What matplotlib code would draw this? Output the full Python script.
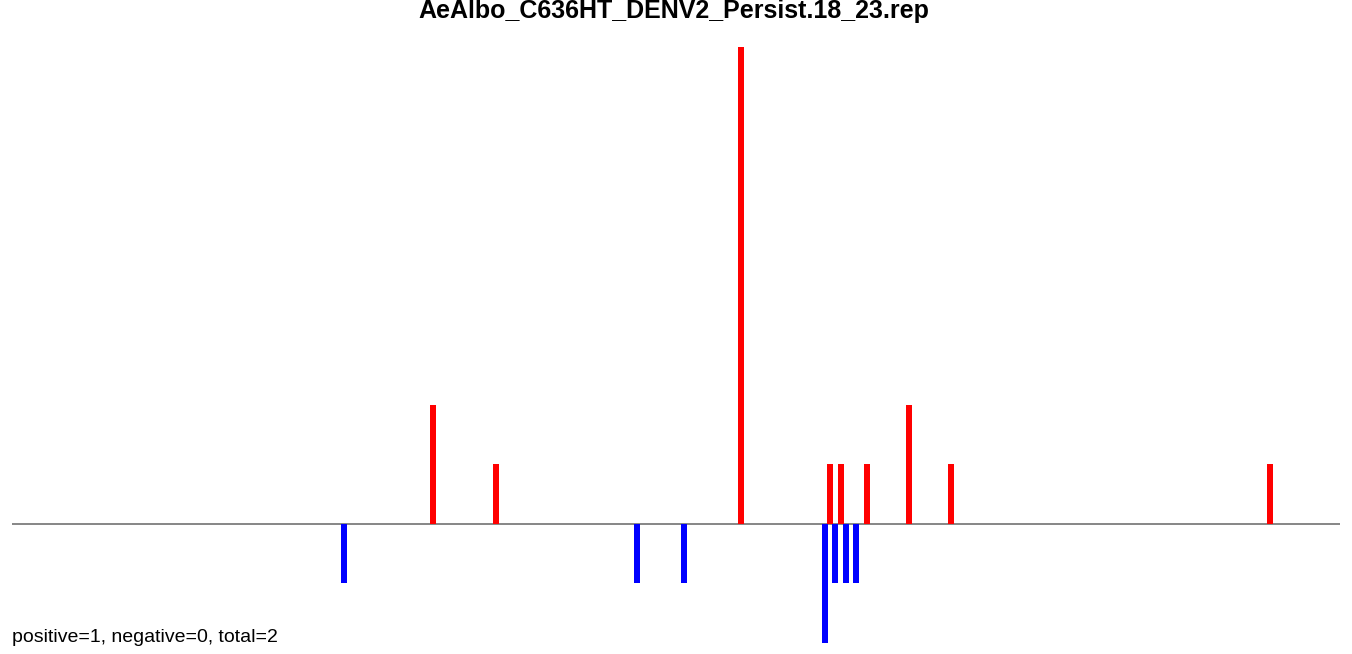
import matplotlib
matplotlib.use("Agg")
import matplotlib.pyplot as plt

plt.rcParams['font.family'] = ['Liberation Sans', 'DejaVu Sans']

title = "AeAlbo_C636HT_DENV2_Persist.18_23.rep"
footer = "positive=1, negative=0, total=2"

# positions along the sequence and counts
pos_x = [421, 484, 729, 818, 829, 855, 897, 939, 1258]
pos_n = [2, 1, 8, 1, 1, 1, 2, 1, 1]
neg_x = [332, 625, 672, 813, 823, 834, 844]
neg_n = [1, 1, 1, 2, 1, 1, 1]

W, H = 1352, 654
fig = plt.figure(figsize=(W / 100, H / 100), dpi=100)
ax = fig.add_axes([12 / W, (H - 643) / H, 1328 / W, 596 / H])
ax.set_xlim(0, 1328)
ax.set_ylim(-2, 8)
ax.axis("off")

ax.axhline(0, color="#666666", lw=1.1, zorder=1)
ax.bar(pos_x, pos_n, width=6, color="red", zorder=2)
ax.bar(neg_x, [-n for n in neg_n], width=6, color="blue", zorder=2)

fig.text(674 / W, 1 - 18 / H, title, ha="center", va="baseline",
         fontsize=18, fontweight="bold")
fig.text(12 / W, 1 - 642 / H, footer, ha="left", va="baseline", fontsize=14)

fig.savefig("out.png", dpi=100)
